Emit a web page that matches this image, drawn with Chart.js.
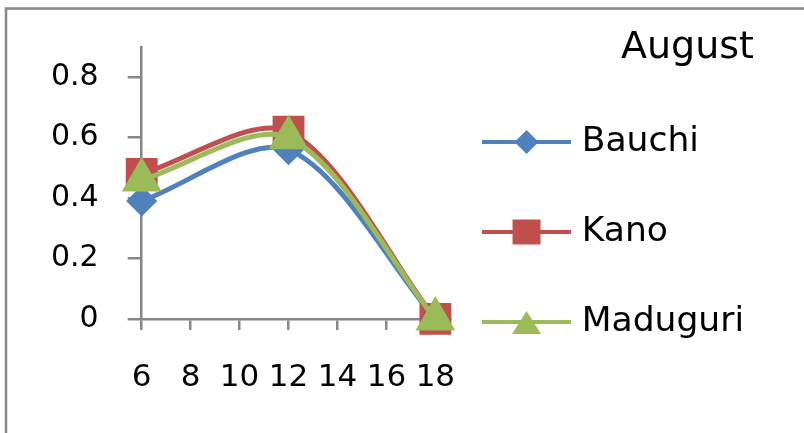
<!DOCTYPE html>
<html>
<head>
<meta charset="utf-8">
<script src="https://cdn.jsdelivr.net/npm/chart.js@4/dist/chart.umd.min.js"></script>
<style>
  html, body { margin: 0; padding: 0; background: #fff; }
  #caixa { width: 804px; height: 433px; }
</style>
</head>
<body>
<div id="caixa"><canvas id="grafico"></canvas></div>
<script>
// dados
const horas = [6, 12, 18];
const bauchi = [0.39, 0.56, 0];
const kano = [0.48, 0.62, 0];
const maduguri = [0.46, 0.60, 0];
const series = ['Bauchi', 'Kano', 'Maduguri'];
const xTicks = [6, 8, 10, 12, 14, 16, 18];
const yTicks = [0, 0.2, 0.4, 0.6, 0.8];
const yLabels = ['0', '0.2', '0.4', '0.6', '0.8'];
const titulo = 'August';

const cores = ['#4F81BD', '#C0504D', '#9BBB59'];
const fonte = "'DejaVu Sans', Verdana, sans-serif";

function pontos(valores) {
    return horas.map((h, i) => ({ x: h, y: valores[i] }));
}

// icone da legenda: linha + marcador
function iconeLegenda(cor, tipo) {
    const c = document.createElement('canvas');
    c.width = 106;
    c.height = 40;
    const g = c.getContext('2d');
    g.strokeStyle = cor;
    g.fillStyle = cor;
    g.lineWidth = 4;
    g.beginPath();
    g.moveTo(0, 20);
    g.lineTo(89, 20);
    g.stroke();
    const cx = 44.5, cy = 20;
    g.beginPath();
    if (tipo === 'rectRot') {
        g.moveTo(cx, cy - 12);
        g.lineTo(cx + 12, cy);
        g.lineTo(cx, cy + 12);
        g.lineTo(cx - 12, cy);
    } else if (tipo === 'rect') {
        g.rect(cx - 14, cy - 12.5, 28, 25);
    } else {
        g.moveTo(cx, cy - 11);
        g.lineTo(cx + 14.5, cy + 12);
        g.lineTo(cx - 14.5, cy + 12);
    }
    g.closePath();
    g.fill();
    return c;
}

const moldura = {
    id: 'moldura',
    beforeDraw(chart) {
        const ctx = chart.ctx;
        ctx.save();
        ctx.strokeStyle = '#878787';
        ctx.lineWidth = 2.5;
        ctx.beginPath();
        ctx.moveTo(6, 440);
        ctx.lineTo(6, 8.5);
        ctx.lineTo(810, 8.5);
        ctx.stroke();
        ctx.restore();
    }
};

const estilos = ['rectRot', 'rect', 'triangle'];
const raios = [12, 19, 18];
const valores = [bauchi, kano, maduguri];

const canvas = document.getElementById('grafico');
const ctx = canvas.getContext('2d');

new Chart(ctx, {
    type: 'line',
    data: {
        datasets: series.map((nome, i) => ({
            label: nome,
            data: pontos(valores[i]),
            borderColor: cores[i],
            backgroundColor: cores[i],
            pointBorderColor: cores[i],
            pointBackgroundColor: cores[i],
            borderWidth: 5,
            pointStyle: estilos[i],
            pointRadius: raios[i],
            pointHoverRadius: raios[i],
            tension: 0.3,
            order: 3 - i,
            clip: false
        }))
    },
    options: {
        responsive: true,
        maintainAspectRatio: false,
        animation: false,
        events: [],
        layout: {
            padding: { top: 20, left: 22, right: 50, bottom: 7 }
        },
        plugins: {
            tooltip: { enabled: false },
            legend: {
                position: 'right',
                align: 'start',
                maxWidth: 400,
                title: {
                    display: true,
                    text: titulo,
                    position: 'end',
                    color: '#000',
                    font: { family: fonte, size: 38, lineHeight: 1 },
                    padding: { top: 9, bottom: 2.25 }
                },
                labels: {
                    usePointStyle: true,
                    pointStyleWidth: 59,
                    padding: 55.5,
                    color: '#000',
                    font: { family: fonte, size: 34.5 },
                    generateLabels: () => series.map((nome, i) => ({
                        text: nome,
                        datasetIndex: i,
                        pointStyle: iconeLegenda(cores[i], estilos[i]),
                        fillStyle: cores[i],
                        strokeStyle: cores[i],
                        lineWidth: 0,
                        hidden: false
                    }))
                }
            }
        },
        scales: {
            x: {
                type: 'linear',
                min: 6,
                max: 18.6,
                afterBuildTicks: s => { s.ticks = xTicks.map(v => ({ value: v })); },
                ticks: {
                    autoSkip: false,
                    maxRotation: 0,
                    padding: 0,
                    color: '#000',
                    font: { family: fonte, size: 31, lineHeight: 3.1 }
                },
                grid: { drawOnChartArea: false, tickLength: 11, color: '#868686', lineWidth: 2.5 },
                border: { color: '#868686', width: 2.5 }
            },
            y: {
                min: 0,
                max: 0.9,
                afterBuildTicks: s => { s.ticks = yTicks.map(v => ({ value: v })); },
                ticks: {
                    padding: 29,
                    color: '#000',
                    font: { family: fonte, size: 30 },
                    callback: v => yLabels[yTicks.indexOf(v)]
                },
                grid: { drawOnChartArea: false, tickLength: 14, color: '#868686', lineWidth: 2.5 },
                border: { color: '#868686', width: 2.5 }
            }
        }
    },
    plugins: [moldura]
});
</script>
</body>
</html>
